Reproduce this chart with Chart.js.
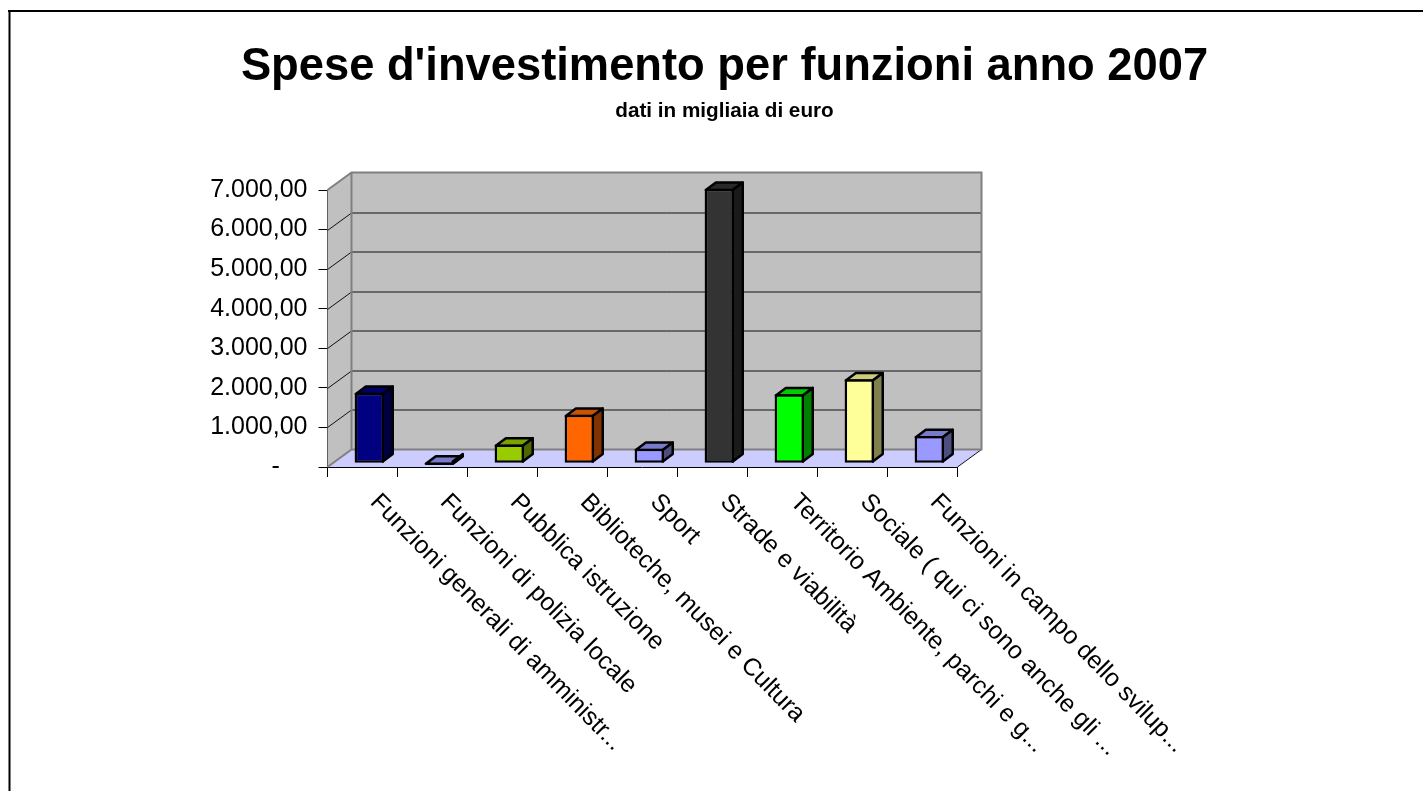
<!DOCTYPE html>
<html lang="it">
<head>
  <meta charset="UTF-8" />
  <title>Spese d'investimento per funzioni anno 2007</title>
  <script src="https://cdn.jsdelivr.net/npm/chart.js"></script>
  <style>
    html, body { margin: 0; padding: 0; background: #fff; overflow: hidden; }
    #box { position: absolute; left: 0; top: 0; width: 1423px; height: 791px; }
  </style>
</head>
<body>
<div id="box"><canvas id="chart" width="1423" height="791"></canvas></div>
<script>
  const titleText = "Spese d'investimento per funzioni anno 2007";
  const subtitleText = "dati in migliaia di euro";
  const categories = [
    "Funzioni generali di amministr...",
    "Funzioni di polizia locale",
    "Pubblica istruzione",
    "Biblioteche, musei e Cultura",
    "Sport",
    "Strade e viabilità",
    "Territorio Ambiente, parchi e g...",
    "Sociale ( qui ci sono anche gli ...",
    "Funzioni in campo dello svilup..."
  ];
  const values = [1780, 20, 475, 1225, 365, 6935, 1745, 2120, 685];
  const frontColors = ['#000080', '#9999FF', '#99CC00', '#FF6600', '#9999FF', '#333333', '#00FF00', '#FFFF99', '#9999FF'];
  const topColors = ['#000066', '#7A7ACC', '#7AA300', '#CC5200', '#7A7ACC', '#292929', '#00CC00', '#CCCC7A', '#7A7ACC'];
  const sideColors = ['#000040', '#4D4D80', '#4D6600', '#803300', '#4D4D80', '#1A1A1A', '#008000', '#80804D', '#4D4D80'];

  const FONT = "'Liberation Sans', Arial, sans-serif";
  // depth of the room and of the bars
  const WALL_DX = 24, WALL_DY = -17.5;
  const BAR_DX = 10, BAR_DY = -7.5;
  const BAR_SHIFT_X = 6.8, BAR_SHIFT_Y = -3.8;
  const BAR_LINE = 2.5;

  function yTick(v) {
    if (v === 0) return '-    ';
    return v.toLocaleString('de-DE', { minimumFractionDigits: 2, maximumFractionDigits: 2 });
  }

  function line(ctx, x1, y1, x2, y2) {
    ctx.beginPath();
    ctx.moveTo(x1, y1);
    ctx.lineTo(x2, y2);
    ctx.stroke();
  }

  function poly(ctx, pts, fill) {
    ctx.beginPath();
    pts.forEach((p, i) => i ? ctx.lineTo(p[0], p[1]) : ctx.moveTo(p[0], p[1]));
    ctx.closePath();
    ctx.fillStyle = fill;
    ctx.fill();
  }

  // frame, walls, floor and gridlines behind the bars
  const room = {
    id: 'room',
    beforeDatasetsDraw(chart) {
      const { ctx, scales } = chart;
      const y = scales.y;
      const l = scales.x.left, r = scales.x.right, b = y.getPixelForValue(0), t = y.getPixelForValue(7000);
      ctx.save();

      ctx.strokeStyle = '#000';
      ctx.lineWidth = 2;
      line(ctx, 9.5, 11, 9.5, 791);
      line(ctx, 8, 11, 1423, 11);

      poly(ctx, [[l + WALL_DX, b + WALL_DY], [r + WALL_DX, b + WALL_DY], [r + WALL_DX, t + WALL_DY], [l + WALL_DX, t + WALL_DY]], '#C0C0C0');
      poly(ctx, [[l, b], [l + WALL_DX, b + WALL_DY], [l + WALL_DX, t + WALL_DY], [l, t]], '#C0C0C0');
      poly(ctx, [[l, b], [r, b], [r + WALL_DX, b + WALL_DY], [l + WALL_DX, b + WALL_DY]], '#CCCCFF');

      ctx.strokeStyle = '#111';
      ctx.lineWidth = 1;
      for (let v = 1000; v < 7000; v += 1000) {
        const p = Math.round(y.getPixelForValue(v)) + 0.5;
        line(ctx, l, p, l + WALL_DX, p + WALL_DY);
        line(ctx, l + WALL_DX, p + WALL_DY, r + WALL_DX, p + WALL_DY);
      }
      line(ctx, r, b, r + WALL_DX, b + WALL_DY);

      ctx.strokeStyle = '#808080';
      ctx.lineWidth = 2;
      ctx.beginPath();
      ctx.moveTo(l, t);
      ctx.lineTo(l + WALL_DX, t + WALL_DY);
      ctx.lineTo(r + WALL_DX, t + WALL_DY);
      ctx.lineTo(r + WALL_DX, b + WALL_DY);
      ctx.lineTo(l + WALL_DX, b + WALL_DY);
      ctx.lineTo(l, b);
      ctx.moveTo(l + WALL_DX, t + WALL_DY);
      ctx.lineTo(l + WALL_DX, b + WALL_DY);
      ctx.stroke();
      ctx.restore();
    },
    // bars stand a little inside the floor, and get their top and side faces here
    beforeDatasetDraw(chart, args) {
      const { ctx } = chart;
      ctx.save();
      ctx.translate(BAR_SHIFT_X, BAR_SHIFT_Y);
      const inset = BAR_LINE / 2;
      args.meta.data.forEach((bar, i) => {
        const p = bar.getProps(['x', 'y', 'base', 'width'], true);
        const x1 = p.x - p.width / 2 + inset, x2 = p.x + p.width / 2 - inset;
        const yt = p.y + inset, yb = p.base - inset;
        const top = [[x1, yt], [x1 + BAR_DX, yt + BAR_DY], [x2 + BAR_DX, yt + BAR_DY], [x2, yt]];
        const side = [[x2, yt], [x2 + BAR_DX, yt + BAR_DY], [x2 + BAR_DX, yb + BAR_DY], [x2, yb]];
        [[top, topColors[i]], [side, sideColors[i]]].forEach(([pts, fill]) => {
          poly(ctx, pts, fill);
          ctx.strokeStyle = '#000';
          ctx.lineWidth = BAR_LINE;
          ctx.lineJoin = 'round';
          ctx.stroke();
        });
      });
    },
    afterDatasetDraw(chart) {
      chart.ctx.restore();
    },
    // slanted category labels, they start under each category and run down to the right
    afterDraw(chart) {
      const { ctx, scales } = chart;
      ctx.save();
      ctx.font = '24.8px ' + FONT;
      ctx.fillStyle = '#000';
      ctx.textAlign = 'left';
      ctx.textBaseline = 'alphabetic';
      categories.forEach((c, i) => {
        ctx.save();
        ctx.translate(scales.x.getPixelForValue(i) + 6.8, scales.y.bottom + 36);
        ctx.rotate(45.5 * Math.PI / 180);
        ctx.fillText(c, 0, 0);
        ctx.restore();
      });
      ctx.restore();
    }
  };

  new Chart(document.getElementById('chart'), {
    type: 'bar',
    data: {
      labels: categories,
      datasets: [{
        data: values,
        backgroundColor: frontColors,
        borderColor: '#000',
        borderWidth: BAR_LINE,
        borderSkipped: false,
        barPercentage: 0.42,
        categoryPercentage: 1
      }]
    },
    options: {
      responsive: false,
      animation: false,
      layout: { padding: { left: 26, right: 0, top: 45, bottom: 314 } },
      plugins: {
        legend: { display: false },
        tooltip: { enabled: false },
        title: {
          display: true,
          text: titleText,
          color: '#000',
          font: { family: FONT, size: 45.3, weight: 'bold', lineHeight: 1 },
          padding: { top: 0, bottom: 11 }
        },
        subtitle: {
          display: true,
          text: subtitleText,
          color: '#000',
          font: { family: FONT, size: 20.7, weight: 'bold', lineHeight: 1 },
          padding: { top: 0, bottom: 68 }
        }
      },
      scales: {
        x: {
          offset: true,
          border: { color: '#000', width: 1 },
          grid: { drawOnChartArea: false, tickColor: '#000', tickLength: 10, offset: true },
          ticks: { display: false },
          afterFit(s) { s.height = 10; }
        },
        y: {
          min: 0,
          max: 7000,
          border: { color: '#000', width: 1 },
          grid: { drawOnChartArea: false, tickColor: '#000', tickLength: 9 },
          ticks: { stepSize: 1000, color: '#000', padding: 11, font: { family: FONT, size: 25 }, callback: yTick },
          afterFit(s) { s.width = 301.5; }
        },
        // only keeps the plot clear of the empty right part of the page
        spacer: {
          position: 'right',
          border: { display: false },
          grid: { display: false },
          ticks: { display: false },
          afterFit(s) { s.width = 465.5; }
        }
      }
    },
    plugins: [room]
  });
</script>
</body>
</html>
